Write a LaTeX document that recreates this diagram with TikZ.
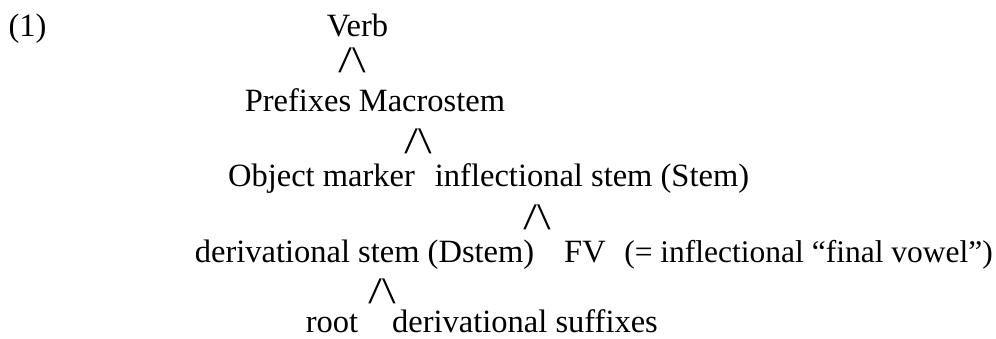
\documentclass[tikz,border=0pt]{standalone}
\usepackage{fontspec}
\setmainfont{Liberation Serif}
\usepackage{tikz}

\begin{document}
\begin{tikzpicture}[x=1pt, y=-1pt, every node/.style={font=\fontsize{32.5}{39}\selectfont, inner sep=0pt},
	word/.style={anchor=base}, branch/.style={anchor=south}]
	\useasboundingbox (0,0) rectangle (996,339);
	\node[word] (ex) at (27.5,37) {(1)};
	\node[word] (verb) at (357.5,37) {Verb};
	\node[branch] (b1) at (352,73) {\scalebox{1.5}[1.15]{/\textbackslash}};
	\node[word] (pre) at (298,112) {Prefixes};
	\node[word] (macro) at (432,112) {Macrostem};
	\node[branch] (b2) at (418,154) {\scalebox{1.5}[1.15]{/\textbackslash}};
	\node[word] (om) at (321.5,187) {Object marker};
	\node[word] (infl) at (592,187) {inflectional stem (Stem)};
	\node[branch] (b3) at (537,230) {\scalebox{1.5}[1.15]{/\textbackslash}};
	\node[word] (dstem) at (364.5,262) {derivational stem (Dstem)};
	\node[word] (fv) at (585,262) {FV};
	\node[word, anchor=base east, font=\fontsize{31.5}{38}\selectfont] (fvgloss) at (993,262) {(= inflectional ``final vowel'')};
	\node[branch] (b4) at (382,304) {\scalebox{1.5}[1.15]{/\textbackslash}};
	\node[word] (root) at (332,332) {root};
	\node[word] (dsuf) at (525,332) {derivational suffixes};
\end{tikzpicture}
\end{document}
